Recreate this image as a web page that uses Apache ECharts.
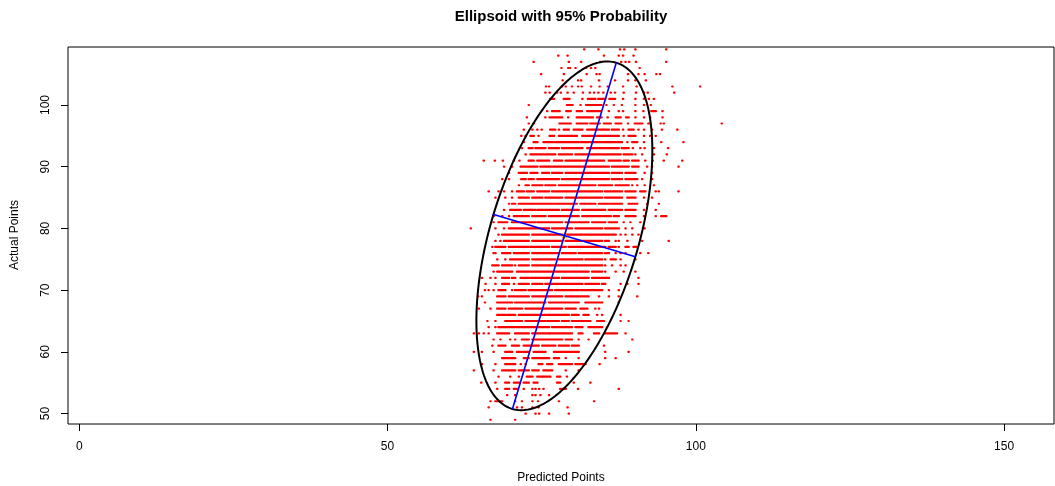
<!DOCTYPE html>
<html>
<head>
<meta charset="utf-8">
<title>Ellipsoid with 95% Probability</title>
<script src="https://cdn.jsdelivr.net/npm/echarts@6/dist/echarts.min.js"></script>
<style>
  html, body { margin: 0; padding: 0; background: #ffffff; }
  #chart { width: 1055px; height: 486px; }
</style>
</head>
<body>
<div id="chart"></div>
<script>
// Actual points come in whole numbers, so the observations sit on rows.
// For each row: predicted values; a pair [from, to] is a stretch where the
// dots are packed so tightly that they run together.
const actualRows = [109, 108, 107, 106, 105, 104, 103, 102, 101, 100,
  99, 98, 97, 96, 95, 94, 93, 92, 91, 90,
  89, 88, 87, 86, 85, 84, 83, 82, 81, 80,
  79, 78, 77, 76, 75, 74, 73, 72, 71, 70,
  69, 68, 67, 66, 65, 64, 63, 62, 61, 60,
  59, 58, 57, 56, 55, 54, 53, 52, 51, 50, 49];

const predictedByRow = [
  [81.9, 84.2, 87.7, 88.4, 90.2, 95.2],
  [77.7, 79.2, 85.1, 87.5, 88.2, 89.9],
  [73.7, 79.4, 81.4, 84.5, 87.9, 88.6, 89.2, 90.3, 95.2],
  [78.2, 79.3, 79.6, 80.5, 82.2, 83.0, 83.7, 90.9],
  [74.9, 78.6, 82.3, 83.9, 84.4, 89.0, 90.7, 91.7, 93.6, 94.2],
  [78.4, 80.9, 81.4, 84.3, 86.9, 89.0, 90.2, 91.9],
  [75.7, 76.2, 78.3, 78.9, 79.9, 80.9, 81.5, 83.0, 84.4, 85.7, 88.2, 90.4, 96.2, 100.7],
  [75.6, 76.3, 77.5, 78.1, 79.2, 80.2, 81.7, 82.8, 83.5, 84.2, 85.0, 86.2, 86.9, 88.3, 90.3, 91.6, 92.2, 96.5],
  [[76.4, 77.0], [78.6, 79.5], 81.6, [82.5, 83.7], [84.2, 85.3], [86.0, 86.9], 88.2, 90.2, 91.6, 92.4, 93.2],
  [72.9, [79.1, 80.0], 81.3, [82.2, 84.7], 85.5, 86.7, 88.0, 90.2, 91.6, 92.7],
  [75.9, [76.7, 77.9], [79.0, 79.7], [80.7, 81.5], [82.4, 84.5], 85.9, 87.5, 88.2, 90.2, 91.5, [92.8, 93.5], 94.6],
  [72.6, 75.6, [76.3, 78.3], 79.3, [80.7, 83.3], [84.0, 84.7], 85.7, [87.0, 87.8], [88.7, 89.1], 90.2, 91.6, 92.6, 94.6],
  [72.9, 73.7, [77.9, 79.7], [80.7, 82.4], [82.9, 84.4], [85.1, 86.2], [87.0, 87.9], 89.0, [90.1, 91.3], [92.3, 92.6], 94.3, 94.8, 104.2],
  [72.1, 73.5, 74.3, 75.0, [76.4, 77.2], 77.8, [78.6, 79.4], [80.2, 81.6], [82.4, 85.9], [86.4, 87.5], 88.2, [89.1, 89.9], 90.7, 91.6, 92.9, 94.5, 97.0],
  [71.7, 72.4, [73.2, 73.7], 74.5, [76.3, 77.0], [77.8, 80.7], [81.6, 83.7], [84.0, 87.5], 88.3, [89.1, 90.2], 91.6, 92.6, 93.5],
  [72.1, [73.7, 74.3], [75.3, 76.7], [77.0, 81.0], [81.3, 82.6], [82.9, 88.0], 88.9, [89.7, 90.5], 91.6, 94.4, 98.0],
  [71.8, [72.9, 73.5], [74.0, 75.6], [76.2, 77.8], [78.3, 81.6], [82.4, 84.0], [84.3, 87.5], [88.0, 89.1], 89.8, 91.0, 91.7, 93.2, 95.5],
  [72.4, [73.2, 74.3], [74.6, 77.2], [77.8, 79.9], [80.5, 84.8], [85.1, 87.8], [88.3, 89.7], 90.2, 91.3, 93.2, 95.3],
  [65.6, 67.4, 68.7, 70.5, 71.4, [72.9, 73.7], [74.3, 76.2], [77.0, 78.3], [78.9, 80.5], [80.7, 85.1], [85.9, 87.8], [88.3, 89.1], [89.7, 90.7], 91.8, 93.0, 94.8, 97.8],
  [68.9, 70.2, [71.6, 74.3], [74.8, 78.3], [78.6, 81.3], [81.6, 85.9], [86.4, 89.1], [89.7, 90.7], 92.1, 92.9, 97.2],
  [69.7, [71.3, 72.6], [73.2, 74.3], [75.1, 76.2], [76.7, 78.3], [78.9, 80.7], [81.0, 85.9], [86.4, 88.0], [88.6, 90.2], 91.7, 92.9],
  [68.6, 69.7, [71.7, 72.4], [72.9, 73.7], [74.3, 76.2], [76.4, 77.8], [78.3, 81.0], [81.3, 85.9], [86.4, 88.0], [88.6, 90.5], 91.3, 92.9],
  [71.3, [72.4, 72.9], [73.5, 75.1], [75.6, 77.2], [77.8, 80.7], [81.0, 83.7], [84.3, 86.4], [87.0, 89.1], 89.7, 90.5, 91.7, 93.2],
  [66.4, 68.0, 68.9, 70.2, [71.0, 72.1], [72.6, 73.7], [74.3, 76.2], [76.7, 78.9], [79.1, 84.8], [85.3, 88.0], [88.6, 90.2], [91.0, 91.8], 93.5, 94.0, 97.2],
  [67.5, 69.1, 70.2, [71.3, 72.9], [73.5, 75.1], [75.6, 78.3], [78.9, 84.8], [85.3, 88.0], [88.9, 90.2], 91.6, 92.9],
  [69.7, [70.2, 70.7], [71.3, 73.5], [73.7, 76.7], [77.0, 80.7], [81.3, 83.7], [84.3, 85.9], [86.2, 88.0], [89.1, 90.5], 92.1, 94.0],
  [68.9, [69.9, 71.6], [72.1, 74.0], [74.3, 77.8], [78.3, 81.0], [81.6, 85.3], [85.9, 88.0], [88.6, 90.2], 91.6, 93.5],
  [67.2, 68.6, 69.7, [70.5, 72.9], [73.5, 75.6], [76.2, 81.0], [81.6, 84.8], [85.1, 86.2], [86.7, 87.5], [88.6, 90.2], 91.6, 93.5, [94.4, 95.2]],
  [67.2, [68.0, 69.4], [70.2, 71.6], [71.8, 74.0], [74.3, 78.3], [78.9, 82.6], [83.2, 85.3], [85.9, 87.2], 88.3, 89.4, 91.0],
  [63.5, 67.5, 68.9, [69.7, 72.1], [72.4, 76.2], [76.7, 79.9], [80.5, 84.8], [85.3, 87.5], 88.6, 89.7, 91.7],
  [68.0, [68.6, 72.9], [73.5, 76.2], [76.4, 78.3], [78.9, 87.0], 87.8, 88.6, 89.7, 90.7],
  [67.5, 68.3, [68.9, 72.9], [73.5, 78.3], [78.9, 84.8], [85.3, 85.9], 87.0, 87.5, 88.9, 91.3, 95.6],
  [67.0, [67.5, 69.1], [69.7, 72.9], [73.2, 76.2], [76.7, 78.9], [79.4, 85.3], [85.9, 87.0], 87.5, [88.6, 89.1], [89.9, 90.5]],
  [67.2, 67.5, [68.6, 69.9], [70.5, 72.9], [73.5, 77.8], [78.3, 80.5], [81.0, 84.8], [85.3, 85.9], 87.0, 87.8, 88.6, 91.0, 92.3],
  [67.8, 69.1, [69.9, 72.9], [73.5, 77.2], [77.8, 81.6], [82.1, 84.8], 85.3, [86.2, 87.0], 87.8, 90.2],
  [[67.0, 68.0], [68.6, 70.2], 70.7, [71.3, 72.9], [73.5, 76.2], [76.4, 80.5], [80.7, 84.8], 85.3, 86.4, 87.8, 88.6],
  [67.2, [67.8, 70.2], [71.0, 78.3], [78.6, 82.6], [83.2, 84.8], 85.3, 87.0, 88.3, 90.2],
  [65.3, 66.7, 67.5, [68.6, 69.7], [70.2, 70.7], [71.6, 72.9], [73.2, 77.8], [78.3, 82.6], [83.2, 85.9], 90.7],
  [65.9, 67.5, [68.6, 69.7], 70.5, [71.3, 72.9], [73.5, 75.1], [75.6, 78.3], [78.6, 81.6], [82.1, 84.3], [84.8, 85.3], 87.8, 88.9, 90.7],
  [65.8, 66.4, 67.2, [68.0, 69.1], 70.2, [70.7, 72.4], [72.9, 76.7], [77.2, 81.0], [81.3, 84.8], 85.9, 87.5],
  [64.7, 65.3, [67.8, 69.1], [69.7, 72.9], [73.5, 78.3], [78.9, 82.6], 84.3, 85.9, 87.5, 90.5],
  [65.8, [67.8, 70.2], [70.7, 75.6], [76.2, 79.9], [80.2, 81.0], [82.1, 84.8], 87.5],
  [64.8, 66.7, [67.8, 69.1], [69.7, 71.8], [72.4, 78.3], [78.9, 80.5], [81.3, 82.4], 83.7, 84.3],
  [[67.8, 69.1], [69.4, 70.7], [71.3, 75.6], [75.9, 79.4], [79.9, 81.0], [81.8, 82.6], 84.0, 84.8, 87.8],
  [66.2, 67.5, [69.1, 71.8], [72.4, 75.6], [75.9, 77.8], [78.3, 79.4], [79.9, 82.9], [84.0, 85.1], 87.8, 89.1],
  [66.4, 67.5, [68.0, 70.7], [71.0, 76.2], [76.7, 79.9], [80.5, 81.6], [82.6, 84.8], 85.6],
  [64.0, 64.8, 65.6, 66.4, [67.8, 69.7], [70.7, 72.9], [73.5, 76.2], [76.4, 79.9], [81.0, 81.6], [83.5, 84.3], [85.3, 87.2], 88.6],
  [67.2, 68.3, 69.9, 70.7, [71.8, 72.9], [73.5, 75.1], [75.3, 78.3], [78.9, 79.9], 81.0, 82.6, 89.7],
  [67.0, [68.0, 69.1], [70.2, 71.3], [72.1, 74.5], [75.1, 77.2], [77.8, 79.4], [79.9, 81.0], 85.1],
  [64.0, 65.3, 67.2, [69.1, 70.2], [71.0, 71.8], [72.1, 72.9], [73.7, 75.6], [77.0, 81.0], 85.3, 89.1],
  [[68.6, 70.7], [72.1, 72.9], [73.5, 76.2], [77.0, 77.8], 78.9, 81.0, 85.3, 87.0],
  [65.3, 67.5, [69.1, 70.7], 71.6, 72.4, [74.5, 75.1], [75.9, 76.7], [77.8, 79.9], [80.5, 82.1], 84.4],
  [64.0, 67.2, [68.6, 70.7], [71.3, 72.9], [73.5, 74.5], [75.3, 76.7], 78.9, 81.0],
  [68.0, 69.9, 71.3, [72.6, 73.5], [74.3, 75.1], [75.3, 76.4], [77.5, 78.0], 79.1],
  [65.2, 67.5, [69.1, 69.7], [70.5, 71.3], [72.1, 72.9], [73.7, 74.3], [77.5, 78.0], 80.2, 82.9],
  [67.8, [69.1, 69.7], [70.5, 71.0], 72.1, 73.5, 74.0, 74.6, 75.3, [78.0, 78.9], 80.9, 87.5],
  [69.4, 70.7, 73.5, 74.0, 74.8, 76.2],
  [66.7, [67.5, 68.6], 70.7, 71.8, 73.5, 74.4, 77.8, 83.5],
  [66.4, 71.0, 71.8, 73.5, 74.5, 79.2],
  [72.4, 74.0, 74.6, 76.2, 79.4],
  [66.7, 70.7]
];

// 95% ellipse: its centre (the mean) and the ends of its two axes.
const ellipseCenter = [78.68, 78.80];
const majorAxisEnds = [[70.26, 50.75], [87.10, 106.85]];
const minorAxisEnds = [[67.08, 82.30], [90.20, 75.40]];

// Axis ranges and tick labels.
const xRange = [-1.83, 158.1];
const yRange = [48.31, 109.4];
const xTicks = [0, 50, 100, 150];
const yTicks = [50, 60, 70, 80, 90, 100];

const FONT = "'Liberation Sans', Arial, Helvetica, sans-serif";

const dotItems = [];
actualRows.forEach(function (y, i) {
  predictedByRow[i].forEach(function (p) {
    const run = Array.isArray(p) ? p : [p, p];
    dotItems.push([run[0], run[1], y]);
  });
});

// Dot half-width / half-height in pixels.
const DOT_W = 1.3, DOT_H = 1.1;
function renderDots(params, api) {
  const y = api.value(2);
  const a = api.coord([api.value(0), y]);
  const b = api.coord([api.value(1), y]);
  return {
    type: 'rect',
    shape: { x: a[0] - DOT_W, y: a[1] - DOT_H, width: b[0] - a[0] + 2 * DOT_W, height: 2 * DOT_H, r: 1 },
    style: { fill: '#ff0000' }
  };
}

function renderEllipse(params, api) {
  const c = ellipseCenter, m = majorAxisEnds[1], n = minorAxisEnds[1];
  const u = [m[0] - c[0], m[1] - c[1]];
  const v = [n[0] - c[0], n[1] - c[1]];
  const pts = [];
  for (let k = 0; k <= 240; k++) {
    const t = k / 240 * 2 * Math.PI;
    pts.push(api.coord([
      c[0] + u[0] * Math.cos(t) + v[0] * Math.sin(t),
      c[1] + u[1] * Math.cos(t) + v[1] * Math.sin(t)
    ]));
  }
  return {
    type: 'polyline',
    shape: { points: pts },
    style: { stroke: '#000000', lineWidth: 2, fill: null }
  };
}

function renderStar(params, api) {
  const p = api.coord([api.value(0), api.value(1)]);
  const s = 3.5, d = 2.5;
  const seg = function (x1, y1, x2, y2) {
    return { type: 'line', shape: { x1: p[0] + x1, y1: p[1] + y1, x2: p[0] + x2, y2: p[1] + y2 },
      style: { stroke: '#ffa500', lineWidth: 1.2 } };
  };
  return { type: 'group', children: [seg(-s, 0, s, 0), seg(0, -s, 0, s), seg(-d, -d, d, d), seg(-d, d, d, -d)] };
}

const chart = echarts.init(document.getElementById('chart'), null, { renderer: 'canvas' });

chart.setOption({
  animation: false,
  backgroundColor: '#ffffff',
  grid: {
    left: 68, top: 47, right: 1, bottom: 62,
    show: true, borderColor: '#000000', borderWidth: 1,
    containLabel: false, outerBoundsMode: 'none'
  },
  xAxis: {
    type: 'value', min: xRange[0], max: xRange[1], position: 'bottom',
    axisLine: { show: false, onZero: false },
    splitLine: { show: false },
    axisTick: { show: true, length: 7, customValues: xTicks, lineStyle: { color: '#000000', width: 1 } },
    axisLabel: { customValues: xTicks, margin: 17, color: '#000000', fontSize: 12, fontFamily: FONT }
  },
  yAxis: {
    type: 'value', min: yRange[0], max: yRange[1], position: 'left',
    axisLine: { show: false, onZero: false },
    splitLine: { show: false },
    axisTick: { show: true, length: 7, customValues: yTicks, lineStyle: { color: '#000000', width: 1 } },
    axisLabel: { customValues: yTicks, rotate: 90, margin: 16, color: '#000000', fontSize: 12, fontFamily: FONT }
  },
  graphic: [
    { type: 'text', x: 561, y: 17, style: { text: 'Ellipsoid with 95% Probability', font: 'bold 15px ' + FONT, fill: '#000000', align: 'center', verticalAlign: 'middle' } },
    { type: 'text', x: 561, y: 478, style: { text: 'Predicted Points', font: '12px ' + FONT, fill: '#000000', align: 'center', verticalAlign: 'middle' } },
    { type: 'text', x: 15, y: 235, rotation: Math.PI / 2, style: { text: 'Actual Points', font: '12px ' + FONT, fill: '#000000', align: 'center', verticalAlign: 'middle' } }
  ],
  series: [
    {
      type: 'custom', name: 'observations', renderItem: renderDots, clip: true, silent: true,
      encode: { x: [0, 1], y: 2 }, data: dotItems
    },
    {
      type: 'custom', name: 'ellipse', renderItem: renderEllipse, clip: true, silent: true,
      encode: { x: 0, y: 1 }, data: [ellipseCenter]
    },
    {
      type: 'line', name: 'major axis', data: majorAxisEnds, symbol: 'none', silent: true,
      lineStyle: { color: '#0000ff', width: 1.6 }
    },
    {
      type: 'line', name: 'minor axis', data: minorAxisEnds, symbol: 'none', silent: true,
      lineStyle: { color: '#0000ff', width: 1.6 }
    },
    {
      type: 'custom', name: 'mean', renderItem: renderStar, silent: true,
      encode: { x: 0, y: 1 }, data: [ellipseCenter]
    }
  ]
});
</script>
</body>
</html>
